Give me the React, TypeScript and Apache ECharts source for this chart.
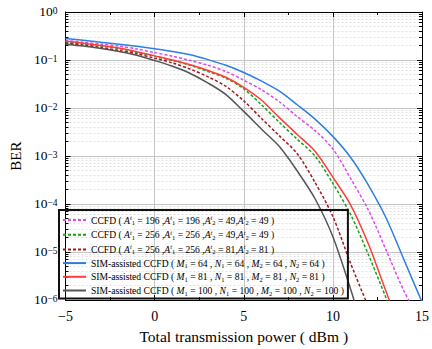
import React, { useEffect, useRef } from 'react';
import * as echarts from 'echarts';

const SERIF = "'Liberation Serif', 'Times New Roman', serif";

// Total transmission power (dBm)
const powerDbm = [-5, -4, -3, -2, -1, 0, 1, 2, 3, 4, 5, 6, 7, 8, 9, 10, 11, 12, 13, 14, 15];

// BER values
const ccfd196x49 = [0.255, 0.234, 0.214, 0.195, 0.170, 0.143, 0.120, 0.0977, 0.0776, 0.0575, 0.0380, 0.0240, 0.0135, 0.00661, 0.00339, 0.00141, 3.39e-4, 7.41e-5, 1.07e-5, 1.51e-6, 3.16e-7];
const ccfd256x49 = [0.234, 0.214, 0.195, 0.174, 0.145, 0.120, 0.0977, 0.0776, 0.0575, 0.0417, 0.0251, 0.0117, 0.00501, 0.00224, 0.00100, 2.69e-4, 6.03e-5, 8.71e-6, 1.07e-6, 1.26e-7];
const ccfd256x81 = [0.224, 0.204, 0.182, 0.158, 0.135, 0.109, 0.0871, 0.0646, 0.0447, 0.0282, 0.0141, 0.00603, 0.00263, 0.00112, 2.82e-4, 5.5e-5, 5.75e-6, 7.08e-7];
const sim64 = [0.280, 0.257, 0.234, 0.214, 0.193, 0.172, 0.151, 0.129, 0.102, 0.0776, 0.0550, 0.0363, 0.0224, 0.0117, 0.00589, 0.00257, 9.33e-4, 2.45e-4, 5.01e-5, 6.76e-6, 9.12e-7];
const sim81 = [0.245, 0.224, 0.200, 0.178, 0.148, 0.122, 0.100, 0.0794, 0.0603, 0.0437, 0.0269, 0.0145, 0.00631, 0.00282, 0.00126, 3.63e-4, 9.55e-5, 1.45e-5, 1.45e-6, 1.58e-7];
const sim100 = [0.214, 0.195, 0.174, 0.151, 0.126, 0.0977, 0.0741, 0.0525, 0.0331, 0.0191, 0.00851, 0.00363, 0.00158, 4.9e-4, 1.29e-4, 2.09e-5, 1.66e-6, 1e-7];

// Legend parameters
const ccfdParams = [
  [196, 196, 49, 49],
  [256, 256, 49, 49],
  [256, 256, 81, 81],
];
const simParams = [64, 81, 100];

const seriesNames = ['ccfd196x49', 'ccfd256x49', 'ccfd256x81', 'sim64', 'sim81', 'sim100'];

function ccfdLabel(p: number[]) {
  const a = (sub: string) => `{i|A}{sp|t}{sb|${sub}}`;
  return `{n|CCFD ( }${a('1')}{n| = ${p[0]} ,}${a('1')}{n| = ${p[1]} ,}${a('2')}{n| = ${p[2]},}${a('2')}{n| = ${p[3]} )}`;
}
function simLabel(v: number) {
  return `{n|SIM-assisted CCFD ( }{i|M}{sb|1}{n| = ${v} , }{i|N}{sb|1}{n| = ${v} , }{i|M}{sb|2}{n| = ${v} , }{i|N}{sb|2}{n| = ${v} )}`;
}

const legendText: Record<string, string> = {
  ccfd196x49: ccfdLabel(ccfdParams[0]),
  ccfd256x49: ccfdLabel(ccfdParams[1]),
  ccfd256x81: ccfdLabel(ccfdParams[2]),
  sim64: simLabel(simParams[0]),
  sim81: simLabel(simParams[1]),
  sim100: simLabel(simParams[2]),
};

function pairs(vals: number[]) {
  return vals.map((v, i) => [powerDbm[i], v]);
}

export default function App() {
  const ref = useRef<HTMLDivElement>(null);
  useEffect(() => {
    if (!ref.current) return;
    const chart = echarts.init(ref.current, undefined, { renderer: 'svg' });
    const mk = (name: string, data: number[], color: string, dashed: boolean) => ({
      name,
      type: 'line',
      data: pairs(data),
      symbol: 'none',
      smooth: 0.3,
      clip: true,
      lineStyle: { color, width: 1.5, type: dashed ? [3, 2] : 'solid' },
      itemStyle: { color },
      z: 3,
    });
    const axisLine = { show: true, onZero: false, lineStyle: { color: '#000', width: 1 } };
    const option: any = {
      animation: false,
      backgroundColor: '#fff',
      grid: { left: 57.5, right: 9.5, top: 12, bottom: 44, containLabel: false },
      xAxis: [
        {
          type: 'value',
          min: -5,
          max: 15,
          interval: 5,
          position: 'bottom',
          axisLine,
          axisTick: { inside: true, length: 5, lineStyle: { color: '#000' } },
          minorTick: { show: true, splitNumber: 2, length: 3, lineStyle: { color: '#000' } },
          splitLine: { show: true, lineStyle: { color: '#c4c4c4', width: 1 } },
          axisLabel: {
            fontFamily: SERIF,
            fontSize: 14,
            color: '#000',
            margin: 9,
            formatter: (v: number) => (v < 0 ? '\u2212' + Math.abs(v) : String(v)),
          },
          name: 'Total transmission power ( dBm )',
          nameLocation: 'middle',
          nameGap: 22,
          nameTextStyle: { fontFamily: SERIF, fontSize: 15.5, color: '#000' },
        },
        {
          type: 'value',
          min: -5,
          max: 15,
          interval: 5,
          position: 'top',
          axisLine,
          axisTick: { inside: true, length: 5, lineStyle: { color: '#000' } },
          minorTick: { show: true, splitNumber: 2, length: 3, lineStyle: { color: '#000' } },
          splitLine: { show: false },
          axisLabel: { show: false },
        },
      ],
      yAxis: [
        {
          type: 'log',
          logBase: 10,
          min: 1e-6,
          max: 1,
          position: 'left',
          axisLine,
          axisTick: { inside: true, length: 5, lineStyle: { color: '#000' } },
          minorTick: { show: true, splitNumber: 9, length: 3, lineStyle: { color: '#000' } },
          splitLine: { show: true, lineStyle: { color: '#c4c4c4', width: 1 } },
          minorSplitLine: { show: true, lineStyle: { color: '#e2e2e2', width: 1, type: [2, 2] } },
          axisLabel: {
            margin: 8,
            formatter: (v: number) => {
              const e = Math.round(Math.log10(v));
              return `{b|10}{s|${e === 0 ? '0' : '\u2212' + -e}}`;
            },
            rich: {
              b: { fontFamily: SERIF, fontSize: 13.5, color: '#000', lineHeight: 13, padding: [2, 0, 0, 0], verticalAlign: 'bottom' },
              s: { fontFamily: SERIF, fontSize: 9.5, color: '#000', lineHeight: 9, verticalAlign: 'top' },
            },
          },
          name: 'BER',
          nameLocation: 'middle',
          nameGap: 38,
          nameTextStyle: { fontFamily: SERIF, fontSize: 15, color: '#000' },
        },
        {
          type: 'log',
          logBase: 10,
          min: 1e-6,
          max: 1,
          position: 'right',
          axisLine,
          axisTick: { inside: true, length: 5, lineStyle: { color: '#000' } },
          minorTick: { show: true, splitNumber: 9, length: 3, lineStyle: { color: '#000' } },
          splitLine: { show: false },
          axisLabel: { show: false },
        },
      ],
      legend: {
        orient: 'vertical',
        left: 59,
        top: 210,
        padding: [4, 4, 2, 3],
        itemGap: 2.7,
        itemWidth: 23,
        itemHeight: 10,
        borderColor: '#111',
        borderWidth: 2,
        borderRadius: 0,
        itemStyle: { opacity: 0 },
        data: seriesNames,
        formatter: (name: string) => legendText[name],
        textStyle: {
          fontFamily: SERIF,
          fontSize: 9.6,
          color: '#000',
          rich: {
            n: { fontFamily: SERIF, fontSize: 9.6, color: '#000', lineHeight: 12 },
            i: { fontFamily: SERIF, fontSize: 9.6, fontStyle: 'italic', color: '#000', lineHeight: 12 },
            sb: { fontFamily: SERIF, fontSize: 6.5, color: '#000', lineHeight: 7, verticalAlign: 'bottom' },
            sp: { fontFamily: SERIF, fontSize: 6.5, fontStyle: 'italic', color: '#000', lineHeight: 7, verticalAlign: 'top' },
          },
        },
      },
      series: [
        mk('ccfd196x49', ccfd196x49, '#e444f2', true),
        mk('ccfd256x49', ccfd256x49, '#16a016', true),
        mk('ccfd256x81', ccfd256x81, '#a3171c', true),
        mk('sim64', sim64, '#2b7fe3', false),
        mk('sim81', sim81, '#ff3d3d', false),
        mk('sim100', sim100, '#555555', false),
      ],
    };
    chart.setOption(option);
    return () => chart.dispose();
  }, []);
  return (
    <div
      ref={ref}
      style={{ position: 'fixed', left: 0, top: 0, width: 432, height: 349 }}
    />
  );
}
